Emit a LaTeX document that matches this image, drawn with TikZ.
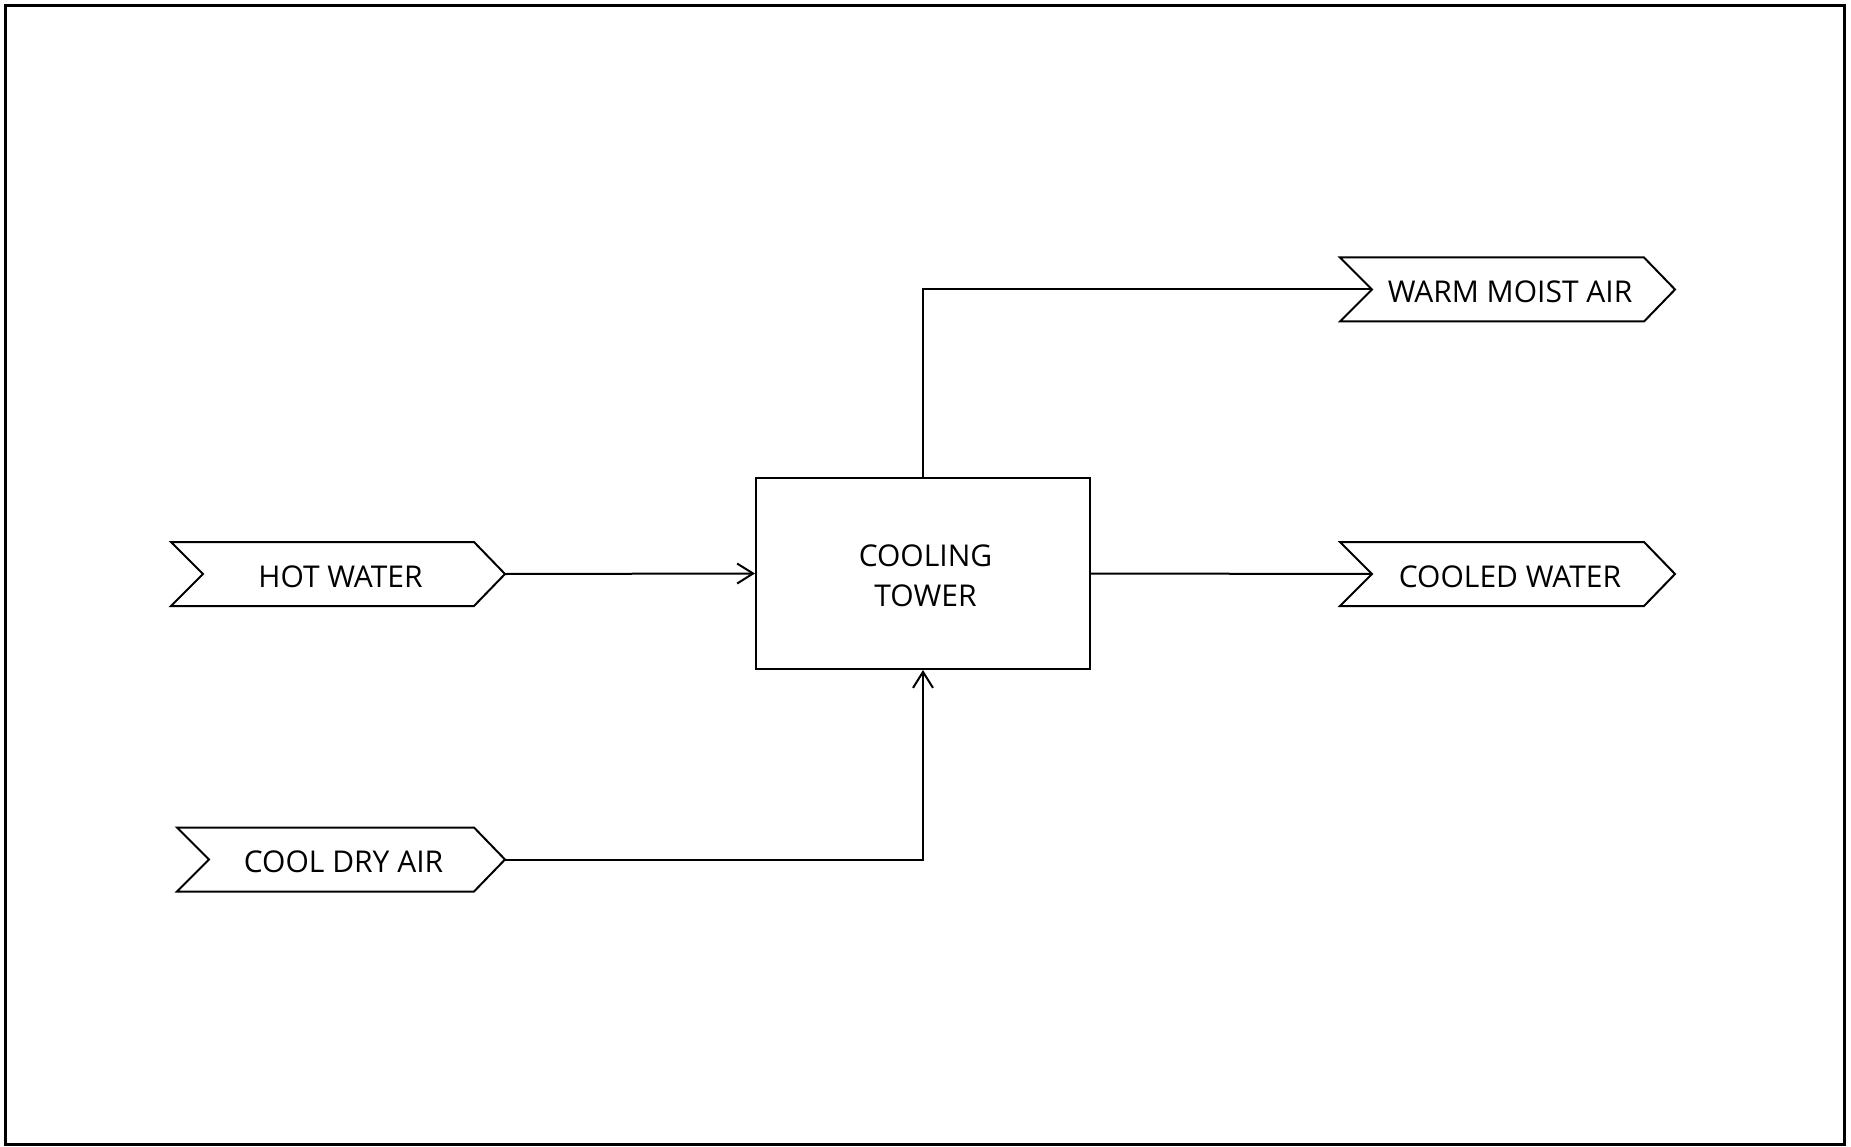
\documentclass[tikz,border=0pt]{standalone}
\usepackage{fontspec}
\setmainfont{Open Sans}
\usetikzlibrary{arrows.meta}
\tikzset{
  flowline/.style={line width=2pt},
  arr/.style={flowline,-{Straight Barb[length=16pt,width=20pt,line width=2pt]}},
  chevbox/.style={line width=2pt,line join=miter},
  lbl/.style={inner sep=0pt,font=\fontsize{30}{40}\selectfont,align=center},
}
\newcommand\chev[5]{%
  \draw[chevbox] (#2,#4-32) -- (#3-31,#4-32) -- (#3,#4) -- (#3-31,#4+32) -- (#2,#4+32) -- (#2+32,#4) -- cycle;
  \node[lbl] (#1) at ({(#2+#3)/2+2.5},#4+2.5) {#5};
  \coordinate (#1-in) at (#2+32,#4);
  \coordinate (#1-out) at (#3,#4);
}
\begin{document}
\begin{tikzpicture}[x=1pt,y=-1pt]
\useasboundingbox (0,0) rectangle (1851,1147);
\draw[line width=3pt] (5.5,5.5) rectangle (1844.5,1144.5);
\chev{hot}{171}{505}{574}{HOT WATER}
\chev{dry}{177}{505}{859.5}{COOL DRY AIR}
\chev{warm}{1340}{1675}{289.5}{WARM MOIST AIR}
\chev{cooled}{1340}{1675}{574}{COOLED WATER}
\node[draw,line width=2pt,minimum width=334pt,minimum height=191pt,inner sep=0pt] (tower) at (923,573.5) {};
\node[lbl] (towertext) at (925.5,576) {COOLING\\TOWER};
\draw[arr] (hot-out) -- (tower.west);
\draw[flowline] (tower.east) -- (cooled-in);
\draw[flowline] (tower.north) |- (warm-in);
\draw[arr] (dry-out) -| (tower.south);
\end{tikzpicture}
\end{document}
